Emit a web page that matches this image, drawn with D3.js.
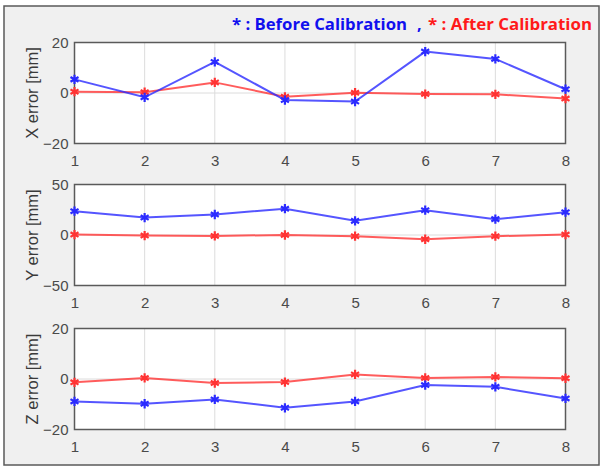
<!DOCTYPE html>
<html><head><meta charset="utf-8">
<script src="https://cdn.jsdelivr.net/npm/d3@7"></script>
<style>
html,body{margin:0;padding:0;background:#fff;}
svg{display:block;}
</style></head>
<body>
<script>
const points = [1,2,3,4,5,6,7,8];
const xBefore = [5.4,-1.7,12.3,-2.8,-3.4,16.4,13.5,1.5];
const xAfter  = [0.5,0.3,4.2,-1.5,0.1,-0.4,-0.5,-2.2];
const yBefore = [23.6,17.3,20.3,26,14,24.6,15.7,22.6];
const yAfter  = [0.4,-0.6,-0.9,0,-1.2,-4.2,-1.2,0.4];
const zBefore = [-8.9,-9.8,-8.1,-11.4,-8.9,-2.4,-3.1,-7.7];
const zAfter  = [-1.3,0.4,-1.6,-1.2,1.8,0.4,0.8,0.3];
const panelLabels = ["X error [mm]","Y error [mm]","Z error [mm]"];
const panelDomains = [[-20,20],[-50,50],[-20,20]];
const panelTicks = [[-20,0,20],[-50,0,50],[-20,0,20]];
const legendBefore = "* : Before Calibration";
const legendComma = ",";
const legendAfter = "* : After Calibration";

const W = 603, H = 468;
const svg = d3.select("body").append("svg").attr("width",W).attr("height",H);
svg.append("rect").attr("x",4).attr("y",6).attr("width",595).attr("height",459)
  .attr("fill","#f0f0f0").attr("stroke","#5a5a5a").attr("stroke-width",1.5);

const blue = "#2b2bff", red = "#ff3333";
const left = 74.5, right = 565.5, ph = 101;
const tops = [42.5, 184.5, 328.5];
const series = [[xBefore,xAfter],[yBefore,yAfter],[zBefore,zAfter]];

const x = d3.scaleLinear().domain([1,8]).range([left,right]);

series.forEach((s,i)=>{
  const top = tops[i];
  const y = d3.scaleLinear().domain(panelDomains[i]).range([top+ph, top]);
  const g = svg.append("g");
  g.append("rect").attr("x",left).attr("y",top).attr("width",right-left).attr("height",ph).attr("fill","#fff");
  g.selectAll(".vg").data(points).join("line")
    .attr("x1",d=>x(d)).attr("x2",d=>x(d)).attr("y1",top).attr("y2",top+ph)
    .attr("stroke","#dcdcdc").attr("stroke-width",1);
  g.selectAll(".hg").data(panelTicks[i]).join("line")
    .attr("x1",left).attr("x2",right).attr("y1",d=>y(d)).attr("y2",d=>y(d))
    .attr("stroke","#dcdcdc").attr("stroke-width",1);
  const xa = g.append("g").attr("transform",`translate(0,${top+ph})`)
    .call(d3.axisBottom(x).tickValues(points).tickFormat(d3.format("d")).tickSize(0).tickPadding(12));
  const ya = g.append("g").attr("transform",`translate(${left},0)`)
    .call(d3.axisLeft(y).tickValues(panelTicks[i]).tickSize(0).tickPadding(6));
  [xa,ya].forEach(a=>{
    a.select(".domain").remove();
    a.selectAll("text").attr("font-family","Liberation Sans, Arial, sans-serif").attr("font-size",15).attr("fill","#4a4a4a");
  });
  g.append("rect").attr("x",left).attr("y",top).attr("width",right-left).attr("height",ph)
    .attr("fill","none").attr("stroke","#5a5a5a").attr("stroke-width",1.5);
  g.append("text").attr("transform",`translate(38,${top+ph/2}) rotate(-90)`)
    .attr("text-anchor","middle").attr("font-family","Liberation Sans, Arial, sans-serif")
    .attr("font-size",16.5).attr("fill","#3a3a3a").text(panelLabels[i]);
  const line = d3.line().x((d,k)=>x(points[k])).y(d=>y(d));
  [[s[1],red],[s[0],blue]].forEach(([vals,col])=>{
    g.append("path").datum(vals).attr("d",line).attr("fill","none")
      .attr("stroke",col).attr("stroke-width",2).attr("stroke-opacity",0.8);
    g.selectAll(null).data(vals).join("path")
      .attr("transform",(d,k)=>`translate(${x(points[k])},${y(d)})`)
      .attr("d",d3.symbol(d3.symbolAsterisk,60)())
      .attr("fill","none").attr("stroke",col).attr("stroke-width",2.2);
  });
});

const font = "Open Sans, Noto Sans, sans-serif";
svg.append("text").attr("x",232).attr("y",30).attr("font-family",font).attr("font-weight","bold")
  .attr("font-size",16).attr("fill","#1010ee").attr("textLength",175).attr("lengthAdjust","spacingAndGlyphs").text(legendBefore);
svg.append("text").attr("x",417).attr("y",30).attr("font-family",font).attr("font-weight","bold")
  .attr("font-size",16).attr("fill","#1010ee").text(legendComma);
svg.append("text").attr("x",428).attr("y",30).attr("font-family",font).attr("font-weight","bold")
  .attr("font-size",16).attr("fill","#ff1a1a").attr("textLength",164).attr("lengthAdjust","spacingAndGlyphs").text(legendAfter);
</script>
</body></html>
